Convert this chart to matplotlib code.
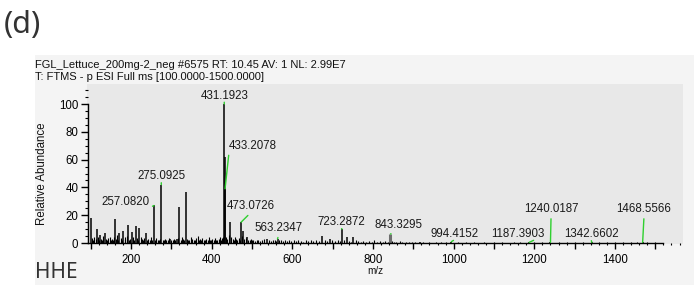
import matplotlib
matplotlib.use("Agg")
import matplotlib.pyplot as plt
from matplotlib.patches import Rectangle
from matplotlib.ticker import MultipleLocator, FuncFormatter

# ---------------- data ----------------
header1 = "FGL_Lettuce_200mg-2_neg #6575 RT: 10.45 AV: 1 NL: 2.99E7"
header2 = "T: FTMS - p ESI Full ms [100.0000-1500.0000]"
panel_label = "(d)"
sample_label = "HHE"
x_label = "m/z"
y_label = "Relative Abundance"

# prominent peaks (m/z, relative abundance)
peak_mz = [101.0, 115.0, 123.0, 135.5, 160.0, 171.0, 181.0, 192.0, 202.0, 212.0,
           221.0, 236.5, 257.0820, 275.0925, 297.0, 313.0, 320.0, 336.0,
           431.1923, 432.19, 433.2078, 445.5, 473.0726, 478.0, 488.0, 536.0,
           563.2347, 673.0, 693.0, 723.2872, 735.0, 751.0, 917.0, 994.4152,
           1187.3903, 1240.0187, 1342.6602, 1468.5566]
peak_int = [18, 10, 6, 7, 17, 7, 9, 13, 8, 12,
            10.5, 7, 27, 42, 3, 3, 26, 37,
            100, 62, 39, 15, 15, 9, 4, 3,
            3, 5, 3, 10, 4, 4, 1, 1,
            0.5, 0.5, 0.5, 0.5]

# broad grey cluster
cluster_mz = [843.3295]
cluster_int = [6.5]

# small background peaks
noise_mz = [104, 107, 109, 112, 118, 120, 126, 129, 131, 138, 141, 144, 147, 150,
            153, 156, 158, 163, 166, 168, 174, 177, 184, 186, 189, 195, 198, 205,
            208, 215, 218, 224, 227, 230, 233, 239, 243, 246, 249, 252, 260, 263,
            266, 269, 272, 279, 282, 285, 288, 291, 294, 300, 303, 306, 309, 316,
            323, 326, 329, 332, 339, 342, 345, 348, 351, 355, 358, 361, 365, 368,
            371, 374, 377, 380, 384, 387, 390, 393, 396, 399, 402, 405, 408, 411,
            414, 417, 420, 423, 426, 429, 436, 439, 442, 449, 452, 455, 458, 461,
            464, 467, 470, 476, 481, 484, 491, 494, 497, 500,
            503, 507, 512, 516, 520, 525, 530, 541, 546, 551, 556, 559, 568, 572,
            577, 582, 587, 592, 597, 603, 609, 615, 621, 627, 633, 640, 646, 652,
            659, 665, 680, 686, 699, 706, 712, 717, 728, 741, 746, 757, 763, 770,
            776, 783, 790, 797, 803, 810, 817, 824, 830, 837, 848, 852, 858, 866,
            873, 881, 889, 897,
            905, 925, 940, 955, 968, 980, 1010, 1030, 1050, 1075, 1100, 1120, 1150,
            1165, 1200, 1220, 1260, 1280, 1300, 1320, 1360, 1380, 1400, 1420, 1440,
            1455, 1480, 1500]
noise_int = [3.5, 2.5, 4.0, 3.0, 4.5, 2.0, 3.0, 2.5, 5.0, 3.0, 2.0, 3.5, 4.0, 2.5,
             3.0, 2.0, 4.5, 3.0, 5.5, 2.5, 3.5, 2.0, 4.0, 3.0, 5.0, 2.5, 3.0, 4.0,
             2.0, 3.5, 2.5, 4.0, 3.0, 2.0, 3.5, 2.5, 3.0, 2.0, 4.0, 2.5, 2.0, 3.5,
             2.5, 2.0, 3.0, 2.5, 2.0, 3.0, 2.0, 2.5, 3.5, 2.0, 2.5, 3.0, 2.0, 3.5,
             2.5, 4.0, 3.0, 2.0, 3.0, 2.5, 2.0, 4.5, 3.0, 2.5, 2.0, 3.5, 5.0, 2.5,
             3.0, 2.0, 3.5, 2.5, 2.0, 3.0, 2.5, 4.0, 2.0, 2.5, 3.0, 2.0, 3.5, 2.5,
             2.0, 3.0, 4.0, 2.5, 3.5, 4.5, 4.0, 3.0, 6.0, 4.0, 3.0, 2.5, 4.5, 3.0,
             2.5, 3.5, 2.5, 5.0, 3.0, 3.5, 2.5, 2.0, 3.0, 2.5,
             2.0, 1.5, 2.5, 2.0, 1.5, 2.0, 3.0, 2.0, 1.5, 2.5, 2.0, 1.5, 2.0, 2.5,
             1.5, 2.0, 1.5, 2.5, 1.5, 2.0, 1.5, 2.0, 1.5, 1.0, 2.0, 1.5, 2.0, 1.5,
             2.5, 1.5, 2.0, 1.5, 2.5, 1.5, 2.0, 1.5, 2.0, 1.5, 1.0, 2.0, 1.5, 1.0,
             1.5, 1.0, 1.5, 1.0, 2.0, 1.0, 1.5, 1.0, 1.5, 1.0, 1.5, 1.0, 1.0, 1.5,
             1.0, 0.8, 1.0, 0.8,
             0.8, 0.6, 0.8, 0.5, 0.7, 0.5, 0.8, 0.5, 0.6, 0.5, 0.7, 0.5, 0.6,
             0.5, 0.5, 0.6, 0.5, 0.4, 0.6, 0.5, 0.5, 0.4, 0.6, 0.4, 0.5,
             0.4, 0.4, 0.4]

# labelled peaks
label_mz = [431.1923, 433.2078, 275.0925, 257.0820, 473.0726, 563.2347, 723.2872,
            843.3295, 994.4152, 1187.3903, 1240.0187, 1342.6602, 1468.5566]
label_int = [100, 39, 42, 27, 15, 3, 10, 6.5, 1, 0.5, 0.5, 0.5, 0.5]
label_text = ["431.1923", "433.2078", "275.0925", "257.0820", "473.0726",
              "563.2347", "723.2872", "843.3295", "994.4152", "1187.3903",
              "1240.0187", "1342.6602", "1468.5566"]

# ---------------- layout ----------------
W, H = 694, 285
DPI = 100
fig = plt.figure(figsize=(W / DPI, H / DPI), dpi=DPI, facecolor="white")

# light grey panel
fig.patches.append(Rectangle((35 / W, 0), 1 - 35 / W, (H - 55) / H,
                             transform=fig.transFigure, facecolor="#f4f4f4",
                             edgecolor="none", zorder=-5))

ARIAL = "Liberation Sans"
fs = 8.3

ax_l, ax_r, ax_t, ax_b = 87, 683, 84, 244
ax = fig.add_axes([ax_l / W, (H - ax_b) / H, (ax_r - ax_l) / W, (ax_b - ax_t) / H])
ax.set_zorder(2)
ax.set_facecolor("#e8e8e8")
ax.set_xlim(90.9, 1568.6)
ax.set_ylim(-0.7, 114.4)

ax.vlines(noise_mz, 0, noise_int, colors="black", linewidth=0.8, zorder=2)
ax.vlines(peak_mz, 0, peak_int, colors="black", linewidth=1.1, zorder=3)
ax.vlines(cluster_mz, 0, cluster_int, colors="#6e6e6e", linewidth=2.2, zorder=3)

for sp in ("top", "right"):
    ax.spines[sp].set_visible(False)
ax.spines["left"].set_position(("data", 93.4))
ax.spines["left"].set_bounds(0, 100)
ax.spines["bottom"].set_position(("data", 0))
ax.spines["bottom"].set_bounds(93.4, 1519)
for sp in ("left", "bottom"):
    ax.spines[sp].set_color("black")
    ax.spines[sp].set_linewidth(1.0)
    ax.spines[sp].set_zorder(4)

ax.yaxis.set_major_locator(MultipleLocator(20))
ax.yaxis.set_minor_locator(MultipleLocator(5))
ax.xaxis.set_major_locator(MultipleLocator(100))
ax.xaxis.set_minor_locator(MultipleLocator(20))
ax.xaxis.set_major_formatter(FuncFormatter(
    lambda v, p: f"{int(round(v))}" if round(v) % 200 == 0 else ""))
ax.tick_params(axis="y", which="major", direction="out", length=5, width=1,
               pad=2, labelsize=fs, colors="black")
ax.tick_params(axis="y", which="minor", direction="out", length=2, width=0.8)
ax.tick_params(axis="x", which="major", direction="out", length=4, width=1,
               pad=4, labelsize=fs, colors="black")
ax.tick_params(axis="x", which="minor", direction="out", length=1.5, width=0.8)
for t in ax.get_xticklabels() + ax.get_yticklabels():
    t.set_fontfamily(ARIAL)

# peak labels with green leader lines (offsets in pixels)
label_dx = [0, 28, 0, -29, 10, 1.5, -1, 7.6, 2.7, -11, 0.6, -0.8, 1.4]
label_dy = [8.5, 43, 8.6, 3.5, 16, 10.8, 7, 9, 7.6, 8.3, 33, 8.3, 33]
label_rx = [0.5, 0.0, 0.5, 1.0, 0.5, 0.5, 0.5, 0.5, 0.5, 0.8, 0.5, 0.5, 0.5]
for mz, inten, txt, dx, dy, rx in zip(label_mz, label_int, label_text,
                                      label_dx, label_dy, label_rx):
    ax.annotate(txt, xy=(mz, inten), xytext=(dx, dy), textcoords="offset pixels",
                ha="center", va="center", fontsize=fs, fontfamily=ARIAL,
                color="#1a1a1a", zorder=6,
                arrowprops=dict(arrowstyle="-", color="#2fd02f", lw=1.0,
                                shrinkA=0.5, shrinkB=0, relpos=(rx, 0.0)))

# texts
fig.text(35 / W, 1 - 68 / H, header1, fontsize=8.0, fontfamily=ARIAL,
         color="#111111", ha="left", va="baseline")
fig.text(35 / W, 1 - 80 / H, header2, fontsize=8.0, fontfamily=ARIAL,
         color="#111111", ha="left", va="baseline")
fig.text(42 / W, 1 - 174 / H, y_label, fontsize=fs, fontfamily=ARIAL,
         rotation=90, ha="center", va="center", color="#111111")
fig.text(375 / W, 1 - 271 / H, x_label, fontsize=7.2, fontfamily=ARIAL,
         ha="center", va="center", color="#111111")
fig.text(4 / W, 1 - 25 / H, panel_label, fontsize=22, fontfamily="Noto Sans",
         ha="left", va="center", color="#333333")
fig.text(35 / W, 1 - 278 / H, sample_label, fontsize=15, fontfamily="Noto Sans",
         ha="left", va="baseline", color="#333333")

fig.savefig("out.png", dpi=DPI, facecolor="white")
